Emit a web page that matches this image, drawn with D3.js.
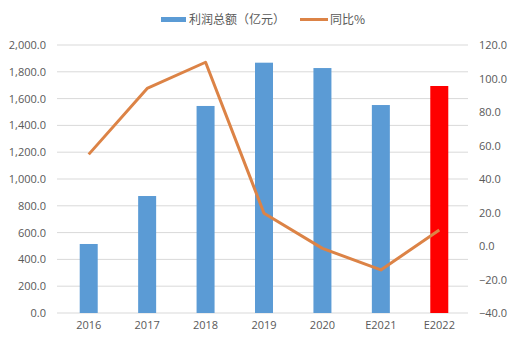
<!DOCTYPE html>
<html><head><meta charset="utf-8">
<script src="https://cdn.jsdelivr.net/npm/d3@7"></script>
<style>body{margin:0;background:#fff;}svg{display:block;font-family:"Noto Sans CJK SC","Open Sans",sans-serif;}</style>
</head><body><svg id="c" width="518" height="344"></svg>
<script>
const categories = ["2016","2017","2018","2019","2020","E2021","E2022"];
const profit = [515, 873, 1545, 1868, 1828, 1552, 1694];
const yoy = [54.7, 94.1, 109.7, 19.6, -1.4, -14.3, 9.5];
const leftTicks = [0,200,400,600,800,1000,1200,1400,1600,1800,2000];
const rightTicks = [-40,-20,0,20,40,60,80,100,120];
const seriesNames = ["利润总额（亿元）","同比%"];

const svg = d3.select("#c");
const L = 57, R = 468, T = 45, B = 313;
const x = d3.scaleBand().domain(categories).range([59.5, 468.5]);
const yL = d3.scaleLinear().domain([0,2000]).range([B,T]);
const yR = d3.scaleLinear().domain([-40,120]).range([B,T]);
const fmt = d3.format(",.1f");
const lineColor = "#dc8346";

// gridlines
svg.append("g").selectAll("line").data(leftTicks).join("line")
  .attr("x1",L).attr("x2",R).attr("y1",d=>yL(d)).attr("y2",d=>yL(d))
  .attr("stroke","#d9d9d9").attr("stroke-width",1);

// left axis
const gl = svg.append("g").attr("transform",`translate(46,0)`)
  .call(d3.axisLeft(yL).tickValues(leftTicks).tickFormat(fmt).tickSize(0).tickPadding(0));
gl.select(".domain").remove();
gl.selectAll("text").attr("fill","#595959").style("font-size","11px").style("font-family","Open Sans, sans-serif");

// right axis
const gr = svg.append("g").attr("transform",`translate(479,0)`)
  .call(d3.axisRight(yR).tickValues(rightTicks).tickFormat(d3.format(".1f")).tickSize(0).tickPadding(0));
gr.select(".domain").remove();
gr.selectAll("text").attr("fill","#595959").style("font-size","11px").style("font-family","Open Sans, sans-serif");

// x axis
const gx = svg.append("g").attr("transform",`translate(0,${B+8})`)
  .call(d3.axisBottom(x).tickSize(0).tickPadding(0));
gx.select(".domain").remove();
gx.selectAll("text").attr("fill","#595959").style("font-size","11px").style("font-family","Open Sans, sans-serif");

// bars
const bw = 18;
svg.append("g").selectAll("rect").data(categories).join("rect")
  .attr("x",(d)=>x(d)+x.bandwidth()/2-bw/2)
  .attr("width",bw)
  .attr("y",(d,i)=>yL(profit[i]))
  .attr("height",(d,i)=>yL(0)-yL(profit[i]))
  .attr("fill",(d,i)=> i===categories.length-1 ? "#ff0000" : "#5b9bd5");

// line
const line = d3.line().x((d,i)=>x(categories[i])+x.bandwidth()/2).y(d=>yR(d));
svg.append("path").datum(yoy).attr("d",line).attr("fill","none")
  .attr("stroke",lineColor).attr("stroke-width",3).attr("stroke-linejoin","round");

// legend
const lg = svg.append("g");
lg.append("rect").attr("x",161).attr("y",17).attr("width",25).attr("height",5).attr("fill","#5b9bd5");
lg.append("text").attr("x",189).attr("y",24).text(seriesNames[0]).attr("fill","#595959").style("font-size","12px");
lg.append("line").attr("x1",300).attr("x2",328).attr("y1",19.5).attr("y2",19.5).attr("stroke",lineColor).attr("stroke-width",3);
lg.append("text").attr("x",330).attr("y",24).text(seriesNames[1]).attr("fill","#595959").style("font-size","12px");
</script></body></html>
